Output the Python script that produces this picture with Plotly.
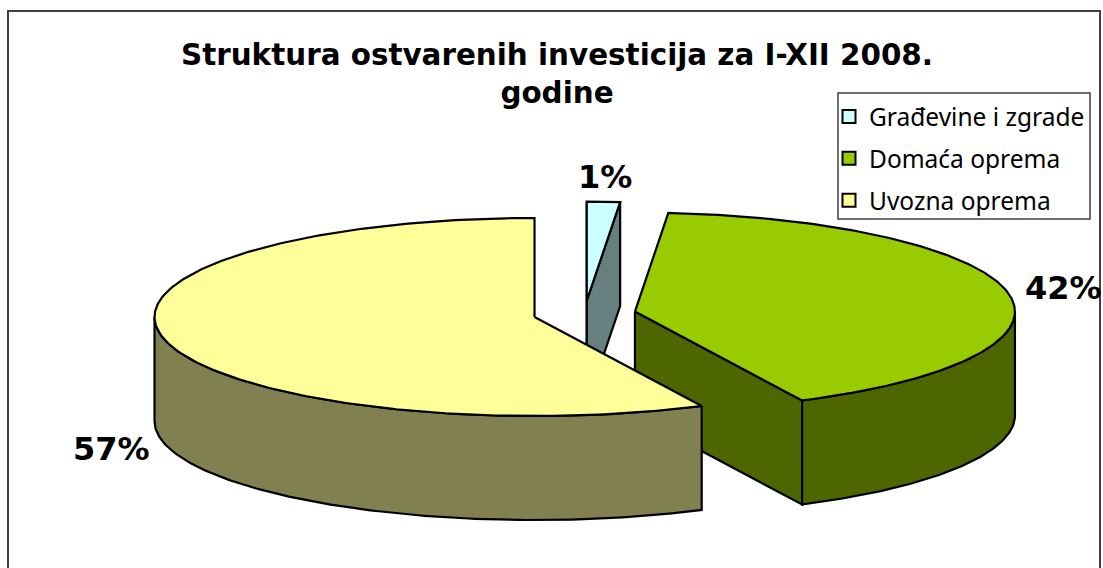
import numpy as np
import plotly.graph_objects as go

# Data
categories = ["Građevine i zgrade", "Domaća oprema", "Uvozna oprema"]
shares = [1.4, 41.35, 57.25]
labels = ["1%", "42%", "57%"]

# Styles
top_colors = ["#CCFFFF", "#99CC00", "#FFFF99"]
side_colors = ["#668080", "#4D6600", "#808050"]

# Pie geometry in pixels of the plot area
CX, CY = 584.5, 314.0
RX, RY, DEPTH = 380.0, 99.0, 104.0
EXPLODE = 0.135
LABEL_XY = [(605, 177), (1063, 288), (111, 449)]


def ell(ax, ay, a):
    a = np.radians(a)
    return ax + RX * np.sin(a), ay - RY * np.cos(a)


def poly(fig, xs, ys, fill):
    fig.add_trace(go.Scatter(x=xs, y=ys, mode="lines", fill="toself", fillcolor=fill,
                             line=dict(color="black", width=2.2), showlegend=False, hoverinfo="skip"))


fig = go.Figure()
edges = np.concatenate([[0], np.cumsum(shares) / np.sum(shares) * 360.0])
apexes = []
for i in range(len(shares)):
    mid = np.radians((edges[i] + edges[i + 1]) / 2)
    apexes.append((CX + EXPLODE * RX * np.sin(mid), CY - EXPLODE * RY * np.cos(mid)))

for i in range(len(shares)):
    a0, a1 = edges[i], edges[i + 1]
    ax, ay = apexes[i]
    sx, sy = ell(ax, ay, a0)
    ex, ey = ell(ax, ay, a1)
    # Cut faces
    if i == 0:
        poly(fig, [ax, sx, sx, ax, ax], [ay, sy, sy + DEPTH, ay + DEPTH, ay], side_colors[i])
        poly(fig, [ax, ex, ex, ax, ax], [ay, ey, ey + DEPTH, ay + DEPTH, ay], side_colors[i])
    if i == 1:
        poly(fig, [ax, ex, ex, ax, ax], [ay, ey, ey + DEPTH, ay + DEPTH, ay], side_colors[i])
    # Outer wall (only the part turned to the viewer)
    lo, hi = max(a0, 90), min(a1, 270)
    if hi > lo:
        t = np.linspace(lo, hi, 120)
        ox, oy = ell(ax, ay, t)
        poly(fig, np.concatenate([ox, ox[::-1], ox[:1]]),
             np.concatenate([oy, oy[::-1] + DEPTH, oy[:1]]), side_colors[i])
    # Top surface
    t = np.linspace(a0, a1, 240)
    px, py = ell(ax, ay, t)
    poly(fig, np.concatenate([[ax], px, [ax]]), np.concatenate([[ay], py, [ay]]), top_colors[i])

# Legend entries
for name, col in zip(categories, top_colors):
    fig.add_trace(go.Scatter(x=[None], y=[None], mode="markers", name=name, legendgroup=name,
                             marker=dict(symbol="square", size=13, color=col,
                                         line=dict(color="black", width=2))))

for (x, y), text in zip(LABEL_XY, labels):
    fig.add_annotation(x=x, y=y, text=f"<b>{text}</b>", showarrow=False,
                       font=dict(family="DejaVu Sans", size=32, color="black"))

# Chart frame and legend box
fig.add_shape(type="rect", x0=8, y0=11, x1=1100, y1=600, line=dict(color="#404040", width=2),
              fillcolor="rgba(0,0,0,0)", layer="below")
fig.add_shape(type="rect", x0=838, y0=93, x1=1090, y1=219, line=dict(color="#404040", width=1.5),
              fillcolor="white", layer="below")

fig.update_layout(
    width=1103, height=568, margin=dict(l=0, r=0, t=0, b=0),
    paper_bgcolor="white", plot_bgcolor="white",
    title=dict(text="<b>Struktura ostvarenih investicija za I-XII 2008.<br>godine</b>",
               x=557 / 1103, xanchor="center", y=1 - 65 / 568, yanchor="top",
               font=dict(family="DejaVu Sans", size=29.4, color="black")),
    xaxis=dict(range=[0, 1103], visible=False, fixedrange=True),
    yaxis=dict(range=[568, 0], visible=False, fixedrange=True),
    showlegend=True,
    legend=dict(x=829 / 1103, xanchor="left", y=1 - 94 / 568, yanchor="top",
                bgcolor="rgba(0,0,0,0)", borderwidth=0,
                tracegroupgap=7, itemwidth=30,
                font=dict(family="Noto Sans", size=24.5, color="black")),
)

fig.write_html("out.html", config={"displayModeBar": False},
               post_script="document.body.style.margin='0';")
